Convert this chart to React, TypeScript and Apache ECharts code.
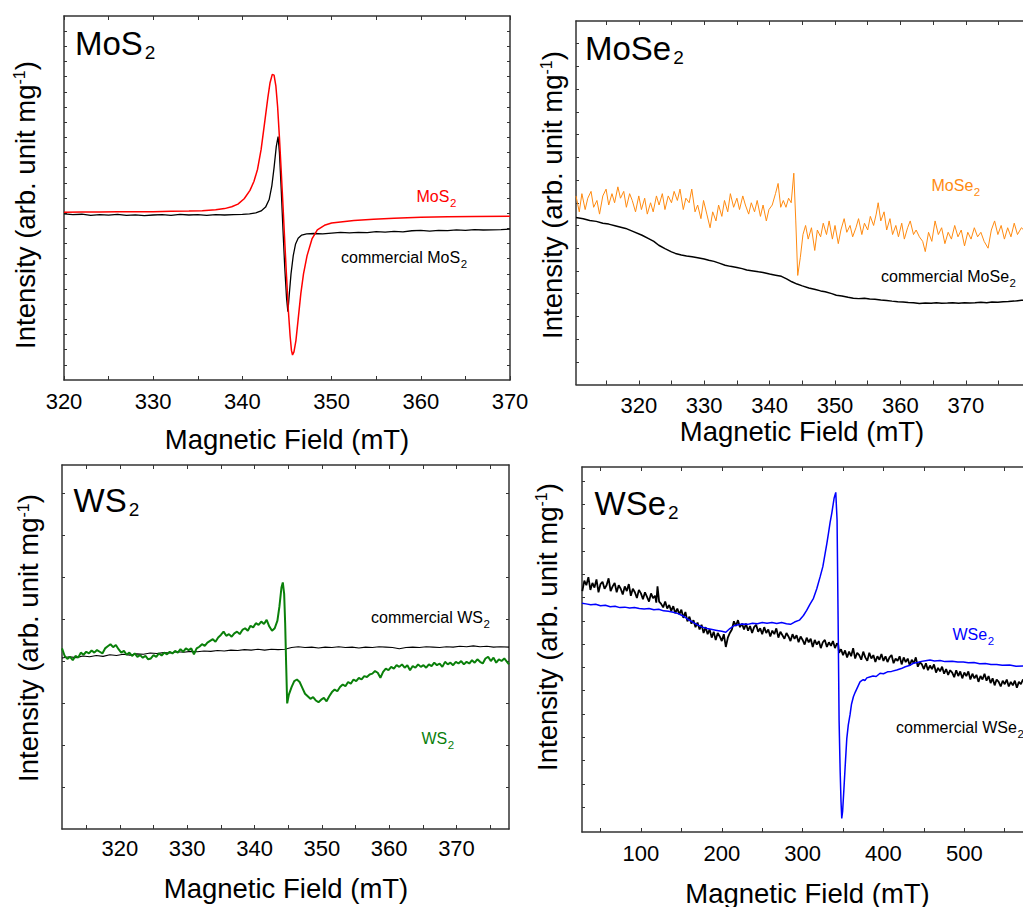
import React, { useEffect, useRef } from "react";
import * as echarts from "echarts";

const FONT = '"Liberation Sans", Arial, Helvetica, sans-serif';
const AX = "#333333";

// ---------- Panel 1: MoS2 ----------
const mos2XTicks = [320, 325, 330, 335, 340, 345, 350, 355, 360, 365, 370];
const mos2XLabels = [320, 330, 340, 350, 360, 370];
const mos2YTicks = [1, 2, 3, 4, 5, 6, 7, 8, 9, 10, 11, 12, 13, 14, 15, 16, 17, 18, 19, 20, 21, 22, 23];
const mos2Red = [
  [320, 11.06], [322, 11.07], [324, 11.08], [326, 11.09], [328, 11.1], [330, 11.1], [332, 11.12], [334, 11.14],
  [335.5, 11.16], [337, 11.22], [338, 11.3], [338.8, 11.42], [339.5, 11.6], [340.2, 11.95], [340.85, 12.5],
  [341.3, 13.1], [341.7, 13.9], [342.1, 15.2], [342.5, 17.0], [342.85, 18.6], [343.1, 19.6], [343.35, 20.15],
  [343.55, 20.1], [343.75, 19.4], [343.95, 18.0], [344.15, 16.0], [344.35, 13.8], [344.55, 11.5], [344.75, 9.1],
  [344.95, 6.8], [345.15, 4.6], [345.35, 2.9], [345.5, 1.95], [345.62, 1.65], [345.78, 1.85], [346.0, 2.6],
  [346.25, 4.0], [346.55, 5.7], [346.85, 7.0], [347.25, 8.2], [347.8, 9.3], [348.4, 9.9], [349.2, 10.2],
  [350, 10.35], [351, 10.42], [352.5, 10.52], [354.7, 10.6], [357, 10.67], [360, 10.73], [363, 10.77],
  [366, 10.78], [370, 10.8],
];
const mos2Commercial = [
  [320, 10.95], [321, 10.9], [322, 10.93], [323, 10.86], [324, 10.9], [325, 10.87], [326, 10.92], [327, 10.85],
  [328, 10.89], [329, 10.84], [330, 10.88], [331, 10.91], [332, 10.86], [333, 10.92], [334, 10.88], [335, 10.91],
  [336, 10.86], [337, 10.9], [338, 10.88], [339, 10.9], [340, 10.92], [340.8, 10.96], [341.5, 11.02],
  [342.1, 11.15], [342.6, 11.4], [343.0, 11.9], [343.3, 12.8], [343.55, 14.0], [343.8, 15.4], [344.0, 16.05],
  [344.15, 15.0], [344.35, 12.6], [344.55, 9.9], [344.75, 7.4], [344.95, 5.4], [345.1, 4.5], [345.25, 5.6],
  [345.45, 7.0], [345.7, 8.2], [345.95, 8.95], [346.25, 9.35], [346.65, 9.56], [347.2, 9.64], [348, 9.66],
  [349, 9.63], [350, 9.68], [351, 9.73], [352, 9.7], [353, 9.74], [354, 9.72], [355, 9.78], [356, 9.75],
  [357, 9.8], [358, 9.77], [359, 9.84], [360, 9.86], [361, 9.82], [362, 9.87], [363, 9.85], [364, 9.9],
  [365, 9.86], [366, 9.92], [367, 9.89], [368, 9.9], [369, 9.92], [370, 9.95],
];

// ---------- Panel 2: MoSe2 ----------
const mose2XTicks = [315, 320, 325, 330, 335, 340, 345, 350, 355, 360, 365, 370, 375];
const mose2XLabels = [320, 330, 340, 350, 360, 370];
const mose2YTicks = [1, 2, 3, 4, 5, 6, 7, 8, 9, 10, 11, 12, 13, 14, 15];
const mose2Orange = [
  [310.4, 8.3], [310.9, 7.6], [311.3, 8.4], [311.8, 7.7], [312.2, 8.2], [312.7, 8.5], [313.1, 7.8], [313.6, 8.1],
  [314.0, 7.5], [314.5, 8.3], [315.0, 8.6], [315.4, 7.9], [315.9, 8.4], [316.3, 8.0], [316.8, 8.7], [317.2, 8.2],
  [317.7, 8.5], [318.1, 7.8], [318.6, 8.4], [319.0, 8.1], [319.5, 7.6], [320.0, 8.3], [320.4, 7.7], [320.9, 8.2],
  [321.3, 7.5], [321.8, 8.0], [322.2, 7.6], [322.7, 8.3], [323.1, 7.9], [323.6, 8.4], [324.0, 7.7], [324.5, 8.3],
  [325.0, 8.0], [325.4, 8.5], [325.9, 8.1], [326.3, 8.6], [326.8, 7.7], [327.2, 8.2], [327.7, 8.0], [328.1, 8.6],
  [328.6, 7.6], [329.0, 7.9], [329.5, 7.3], [329.9, 8.1], [330.4, 7.5], [330.9, 6.9], [331.3, 7.6], [331.8, 7.2],
  [332.2, 7.9], [332.7, 7.4], [333.1, 8.1], [333.6, 7.6], [334.0, 8.4], [334.5, 7.8], [335.0, 8.2], [335.4, 7.7],
  [335.9, 8.3], [336.3, 7.9], [336.8, 7.5], [337.2, 8.0], [337.7, 7.6], [338.1, 8.1], [338.6, 7.4], [339.0, 7.9],
  [339.5, 7.2], [339.9, 7.7], [340.4, 7.9], [340.9, 8.4], [341.3, 8.85], [341.7, 7.8], [342.1, 8.1], [342.5, 7.8],
  [342.9, 8.2], [343.3, 8.0], [343.7, 9.3], [344.0, 7.2], [344.3, 4.8], [344.7, 5.6], [345.1, 6.6], [345.5, 7.0],
  [345.9, 6.4], [346.4, 6.9], [346.9, 5.9], [347.3, 6.8], [347.8, 6.5], [348.2, 7.1], [348.7, 6.6], [349.1, 7.2],
  [349.6, 6.4], [350.0, 7.0], [350.5, 6.2], [350.9, 6.8], [351.4, 7.3], [351.8, 6.7], [352.3, 7.0], [352.7, 6.5],
  [353.2, 6.9], [353.6, 7.3], [354.1, 6.6], [354.5, 7.1], [355.0, 6.8], [355.4, 7.4], [355.9, 7.0], [356.3, 7.5],
  [356.6, 8.0], [357.0, 7.2], [357.5, 7.6], [357.9, 6.8], [358.4, 7.3], [358.8, 6.6], [359.3, 7.0], [359.7, 6.5],
  [360.2, 7.1], [360.6, 6.4], [361.1, 6.9], [361.5, 7.2], [362.0, 6.6], [362.4, 6.8], [362.9, 6.5], [363.4, 6.3],
  [363.8, 5.85], [364.3, 6.7], [364.8, 6.3], [365.3, 7.2], [365.8, 6.6], [366.3, 6.9], [366.8, 6.2], [367.3, 6.7],
  [367.8, 6.4], [368.3, 7.0], [368.8, 6.5], [369.3, 6.8], [369.8, 6.1], [370.3, 6.7], [370.8, 6.4], [371.3, 6.9],
  [371.8, 6.5], [372.3, 6.7], [372.8, 6.3], [373.4, 6.0], [373.9, 6.8], [374.4, 7.2], [374.9, 6.6], [375.4, 7.0],
  [375.9, 6.4], [376.4, 6.9], [376.9, 6.5], [377.4, 7.1], [377.9, 6.6], [378.5, 6.9], [379.2, 6.7],
];
const mose2Commercial = [
  [310.4, 7.35], [311.5, 7.3], [312.5, 7.22], [313.5, 7.18], [314.5, 7.1], [315.4, 7.06], [316.5, 6.98], [318, 6.87],
  [319, 6.75], [320.5, 6.57], [321.5, 6.42], [322.3, 6.3], [323.05, 6.13], [324, 5.98], [325, 5.84], [325.6, 5.77],
  [326.5, 5.7], [327.3, 5.66], [328.15, 5.62], [329, 5.58], [330, 5.52], [330.7, 5.47], [331.5, 5.42], [332.4, 5.33],
  [333.2, 5.25], [334, 5.2], [335, 5.15], [335.8, 5.1], [336.5, 5.04], [337.5, 5.0], [338.3, 4.96], [339, 4.93],
  [340, 4.86], [340.9, 4.81], [341.8, 4.76], [342.6, 4.65], [343.4, 4.52], [344.2, 4.42], [345, 4.34], [346, 4.25],
  [347, 4.18], [347.8, 4.12], [348.5, 4.08], [349.5, 4.0], [350.2, 3.93], [351.05, 3.9], [352, 3.84], [352.8, 3.8],
  [353.6, 3.78], [354.5, 3.8], [355.3, 3.76], [356.1, 3.75], [357, 3.72], [357.9, 3.7], [358.7, 3.67], [359.6, 3.64],
  [360.4, 3.63], [361.2, 3.61], [362, 3.6], [362.9, 3.57], [363.8, 3.59], [364.7, 3.58], [365.5, 3.6], [366.3, 3.58],
  [367.2, 3.59], [368, 3.6], [368.9, 3.58], [369.8, 3.6], [370.6, 3.59], [371.4, 3.6], [372.3, 3.62], [373.2, 3.6],
  [374, 3.63], [374.9, 3.62], [375.7, 3.64], [376.5, 3.65], [377.4, 3.67], [378.5, 3.71], [379.2, 3.7],
];

// ---------- Panel 3: WS2 ----------
const ws2XTicks = [315, 320, 325, 330, 335, 340, 345, 350, 355, 360, 365, 370, 375];
const ws2XLabels = [320, 330, 340, 350, 360, 370];
const ws2YTicks = [1, 2, 3, 4, 5, 6, 7, 8];
const ws2Green = [
  [311.4, 4.3], [311.8, 4.12], [312.2, 4.05], [312.6, 4.1], [313.0, 4.02], [313.4, 4.12], [313.8, 4.08], [314.2, 4.2],
  [314.6, 4.15], [315.0, 4.22], [315.4, 4.18], [315.8, 4.25], [316.2, 4.2], [316.6, 4.26], [317.0, 4.22], [317.4, 4.18],
  [317.8, 4.3], [318.2, 4.35], [318.6, 4.4], [319.0, 4.33], [319.4, 4.38], [319.8, 4.28], [320.2, 4.2], [320.6, 4.24],
  [321.0, 4.15], [321.4, 4.2], [321.8, 4.12], [322.2, 4.18], [322.6, 4.1], [323.0, 4.14], [323.4, 4.08], [323.8, 4.12],
  [324.2, 4.04], [324.6, 4.06], [325.0, 4.14], [325.4, 4.1], [325.8, 4.18], [326.2, 4.13], [326.6, 4.2], [327.0, 4.16],
  [327.4, 4.22], [327.8, 4.18], [328.2, 4.24], [328.6, 4.2], [329.0, 4.28], [329.4, 4.22], [329.8, 4.3], [330.2, 4.26],
  [330.6, 4.3], [331.0, 4.16], [331.4, 4.3], [331.8, 4.34], [332.2, 4.4], [332.6, 4.36], [333.0, 4.44], [333.4, 4.48],
  [333.8, 4.52], [334.2, 4.46], [334.6, 4.56], [335.0, 4.62], [335.4, 4.7], [335.8, 4.6], [336.2, 4.64], [336.6, 4.58],
  [337.0, 4.66], [337.4, 4.7], [337.8, 4.64], [338.2, 4.74], [338.6, 4.78], [339.0, 4.72], [339.4, 4.84], [339.8, 4.8],
  [340.2, 4.9], [340.6, 4.86], [341.0, 4.94], [341.4, 4.88], [341.8, 4.98], [342.2, 4.82], [342.6, 4.72], [343.0, 4.78],
  [343.4, 4.96], [343.7, 5.3], [344.0, 5.75], [344.2, 5.87], [344.4, 5.6], [344.55, 4.9], [344.7, 3.9], [344.85, 2.99],
  [345.1, 3.2], [345.5, 3.38], [345.9, 3.52], [346.3, 3.56], [346.7, 3.5], [347.1, 3.36], [347.5, 3.22], [347.9, 3.16],
  [348.3, 3.1], [348.7, 3.14], [349.1, 3.06], [349.5, 3.02], [349.9, 3.08], [350.3, 3.12], [350.7, 3.04], [351.1, 3.16],
  [351.5, 3.26], [351.9, 3.32], [352.3, 3.28], [352.7, 3.38], [353.1, 3.44], [353.5, 3.4], [353.9, 3.5], [354.3, 3.46],
  [354.7, 3.56], [355.1, 3.52], [355.5, 3.6], [355.9, 3.56], [356.3, 3.64], [356.7, 3.62], [357.1, 3.68], [357.5, 3.7],
  [357.9, 3.76], [358.3, 3.72], [358.7, 3.6], [359.1, 3.74], [359.5, 3.82], [359.9, 3.78], [360.3, 3.86], [360.7, 3.82],
  [361.1, 3.9], [361.5, 3.86], [361.9, 3.92], [362.3, 3.84], [362.7, 3.9], [363.1, 3.78], [363.5, 3.88], [363.9, 3.84],
  [364.3, 3.92], [364.7, 3.86], [365.1, 3.9], [365.5, 3.84], [365.9, 3.92], [366.3, 3.88], [366.7, 3.96], [367.1, 3.9],
  [367.5, 3.94], [367.9, 3.86], [368.3, 3.98], [368.7, 3.92], [369.1, 3.96], [369.5, 3.9], [369.9, 3.98], [370.3, 3.94],
  [370.7, 4.0], [371.1, 3.92], [371.5, 3.98], [371.9, 3.94], [372.3, 4.02], [372.7, 3.96], [373.1, 4.04], [373.5, 3.98],
  [373.9, 3.94], [374.3, 4.06], [374.7, 4.1], [375.1, 4.0], [375.5, 4.08], [375.9, 3.96], [376.3, 4.04], [376.7, 4.0],
  [377.1, 4.06], [377.5, 3.98], [377.8, 3.92],
];
const ws2Commercial = [
  [311.4, 4.07], [312.5, 4.1], [313.5, 4.08], [314.5, 4.12], [315.5, 4.1], [316.5, 4.13], [317.5, 4.11], [318.5, 4.15],
  [319.5, 4.13], [320.5, 4.16], [321.5, 4.14], [322.5, 4.17], [323.5, 4.16], [324.5, 4.19], [325.5, 4.18], [326.5, 4.2],
  [327.5, 4.19], [328.5, 4.22], [329.5, 4.21], [330.5, 4.23], [331.5, 4.22], [332.5, 4.24], [333.5, 4.23], [334.5, 4.25],
  [335.5, 4.24], [336.5, 4.26], [337.5, 4.25], [338.5, 4.27], [339.5, 4.26], [340.5, 4.28], [341.5, 4.26], [342.5, 4.28],
  [343.5, 4.27], [344.5, 4.28], [345.5, 4.32], [346.5, 4.34], [347.5, 4.32], [348.5, 4.33], [349.5, 4.31], [350.5, 4.33],
  [351.5, 4.32], [352.5, 4.34], [353.5, 4.32], [354.5, 4.33], [355.5, 4.31], [356.5, 4.33], [357.5, 4.32], [358.5, 4.34],
  [359.5, 4.33], [360.5, 4.32], [361.5, 4.29], [362.5, 4.32], [363.5, 4.33], [364.5, 4.32], [365.5, 4.34], [366.5, 4.33],
  [367.5, 4.32], [368.5, 4.34], [369.5, 4.33], [370.5, 4.35], [371.5, 4.34], [372.5, 4.36], [373.5, 4.34], [374.5, 4.35],
  [375.5, 4.33], [376.5, 4.34], [377.8, 4.33],
];

// ---------- Panel 4: WSe2 ----------
const wse2XTicks = [50, 100, 150, 200, 250, 300, 350, 400, 450, 500, 550];
const wse2XLabels = [100, 200, 300, 400, 500];
const wse2YTicks = [1.07, 2.07, 3.07, 4.07, 5.07, 6.07, 7.07, 8.07, 9.07, 10.07, 11.07, 12.07, 13.07, 14.07, 15.07];
const wse2Blue = [
  [27.1, 9.83], [32, 9.8], [38, 9.76], [44, 9.78], [50, 9.72], [56, 9.74], [62, 9.68], [68, 9.7], [74, 9.64], [80, 9.66],
  [86, 9.62], [92, 9.64], [98, 9.6], [104, 9.58], [110, 9.6], [116, 9.55], [122, 9.57], [128, 9.5], [134, 9.48],
  [140, 9.44], [146, 9.38], [152, 9.28], [158, 9.14], [164, 9.02], [170, 8.9], [176, 8.8], [182, 8.74], [188, 8.7],
  [194, 8.66], [200, 8.62], [205, 8.58], [210, 8.74], [215, 8.86], [220, 8.9], [226, 8.94], [232, 8.92], [238, 8.97],
  [244, 8.95], [250, 9.0], [256, 8.97], [262, 9.0], [268, 8.96], [274, 9.0], [280, 8.95], [285, 8.92], [290, 9.02],
  [296, 9.1], [301, 9.3], [305, 9.52], [309, 9.78], [313.4, 10.04], [317.5, 10.45], [321.7, 10.97], [325, 11.4],
  [327.9, 11.98], [330, 12.4], [332, 12.84], [334, 13.3], [336.1, 13.7], [339, 14.35], [341, 14.59], [342.6, 13.4],
  [343.9, 9.11], [345.1, 4.8], [346.4, 2.65], [347.5, 1.3], [348.4, 0.58], [349.5, 0.9], [351, 1.8], [352.6, 2.8],
  [354.6, 4.0], [356.5, 4.6], [358.7, 5.05], [360.5, 5.5], [362.8, 5.81], [365, 6.0], [367, 6.15], [369, 6.3],
  [371, 6.45], [373, 6.5], [375, 6.55], [377, 6.5], [379.4, 6.62], [383, 6.66], [387, 6.7], [391, 6.68], [395.8, 6.82],
  [400, 6.8], [405, 6.88], [410, 6.9], [416.4, 6.96], [422, 7.02], [427, 7.1], [432, 7.15], [437, 7.25], [442, 7.28],
  [447, 7.33], [452, 7.36], [457.6, 7.39], [463, 7.35], [470, 7.37], [476, 7.32], [485, 7.34], [492, 7.3],
  [498.8, 7.3], [505, 7.27], [512, 7.28], [519, 7.23], [526, 7.24], [533, 7.2], [540, 7.2], [547, 7.16], [556, 7.17],
  [564, 7.12], [576, 7.14],
];
const wse2Commercial = [
  [27.5, 10.35], [30, 10.8], [32.5, 10.6], [35, 10.95], [37.5, 10.4], [40, 10.7], [42.5, 10.5], [45, 10.85], [47.5, 10.3], [50, 10.65],
  [52.5, 10.75], [55, 10.45], [57.5, 10.6], [60, 10.9], [62.5, 10.35], [65, 10.55], [67.5, 10.7], [70, 10.3], [72.5, 10.6], [75, 10.45],
  [77.5, 10.2], [80, 10.55], [82.5, 10.35], [85, 10.65], [87.5, 10.15], [90, 10.45], [92.5, 10.3], [95, 10.05], [97.5, 10.4], [100, 10.25],
  [102.5, 10.0], [105, 10.3], [107.5, 10.1], [110, 9.9], [112.5, 10.25], [115, 10.05], [117.5, 10.15], [119, 9.85], [120.5, 10.55], [122.5, 9.9],
  [125, 9.8], [127.5, 9.65], [130, 9.9], [132.5, 9.6], [135, 9.75], [137.5, 9.5], [140, 9.7], [142.5, 9.4], [145, 9.6], [147.5, 9.35],
  [150, 9.55], [152.5, 9.2], [155, 9.45], [157.5, 9.05], [160, 9.25], [162.5, 8.95], [165, 9.1], [167.5, 8.8], [170, 9.0], [172.5, 8.7],
  [175, 8.9], [177.5, 8.55], [180, 8.8], [182.5, 8.5], [185, 8.7], [187.5, 8.35], [190, 8.6], [192.5, 8.25], [195, 8.55], [197.5, 8.4],
  [200, 8.2], [202.5, 8.5], [205, 7.95], [207.5, 8.35], [210, 8.55], [212.5, 8.7], [215, 9.05], [217.5, 8.85], [220, 9.1], [222.5, 8.8],
  [225, 8.95], [227.5, 8.7], [230, 8.95], [232.5, 8.65], [235, 8.85], [237.5, 8.55], [240, 8.8], [242.5, 8.9], [245, 8.6], [247.5, 8.75],
  [250, 8.5], [252.5, 8.8], [255, 8.55], [257.5, 8.7], [260, 8.4], [262.5, 8.65], [265, 8.5], [267.5, 8.75], [270, 8.35], [272.5, 8.6],
  [275, 8.45], [277.5, 8.3], [280, 8.55], [282.5, 8.4], [285, 8.2], [287.5, 8.5], [290, 8.3], [292.5, 8.45], [295, 8.15], [297.5, 8.4],
  [300, 8.25], [302.5, 8.05], [305, 8.35], [307.5, 8.15], [310, 8.3], [312.5, 7.95], [315, 8.25], [317.5, 8.05], [320, 8.2], [322.5, 7.9],
  [325, 8.15], [327.5, 8.25], [330, 7.95], [332.5, 8.15], [335, 8.0], [337.5, 8.2], [340, 7.9], [342.5, 8.1], [344, 8.05], [345, 7.7],
  [347.5, 7.85], [350, 7.6], [352.5, 7.8], [355, 7.5], [357.5, 7.75], [360, 7.55], [362.5, 7.9], [365, 7.45], [367.5, 7.7], [370, 7.6],
  [372.5, 7.4], [375, 7.75], [377.5, 7.5], [380, 7.35], [382.5, 7.7], [385, 7.45], [387.5, 7.6], [390, 7.3], [392.5, 7.55], [395, 7.4],
  [397.5, 7.65], [400, 7.35], [402.5, 7.55], [405, 7.3], [407.5, 7.5], [410, 7.6], [412.5, 7.25], [415, 7.45], [417.5, 7.35], [420, 7.55],
  [422.5, 7.2], [425, 7.5], [427.5, 7.3], [430, 7.45], [432.5, 7.15], [435, 7.4], [437.5, 7.25], [440, 7.5], [442.5, 7.1], [445, 7.3],
  [447.5, 7.2], [450, 7.0], [452.5, 7.25], [455, 6.95], [457.5, 7.15], [460, 7.0], [462.5, 7.2], [465, 6.85], [467.5, 7.05], [470, 6.9],
  [472.5, 7.1], [475, 6.8], [477.5, 7.0], [480, 6.75], [482.5, 6.95], [485, 6.85], [487.5, 6.65], [490, 6.95], [492.5, 6.7], [495, 6.9],
  [497.5, 6.6], [500, 6.85], [502.5, 6.7], [505, 6.9], [507.5, 6.55], [510, 6.8], [512.5, 6.6], [515, 6.75], [517.5, 6.45], [520, 6.7],
  [522.5, 6.55], [525, 6.8], [527.5, 6.5], [530, 6.7], [532.5, 6.4], [535, 6.6], [537.5, 6.3], [540, 6.55], [542.5, 6.45], [545, 6.25],
  [547.5, 6.5], [550, 6.35], [552.5, 6.55], [555, 6.25], [557.5, 6.45], [560, 6.3], [562.5, 6.5], [565, 6.2], [567.5, 6.45], [570, 6.35],
  [572.5, 6.55], [575, 6.4],
];

const xTitle = "Magnetic Field (mT)";

type Panel = {
  grid: { left: number; top: number; width: number; height: number };
  xMin: number; xMax: number; xTicks: number[]; xLabels: number[]; labelMargin: number;
  yMin: number; yMax: number; yTicks: number[];
};

const panels: Panel[] = [
  { grid: { left: 64, top: 16, width: 446, height: 364 }, xMin: 320, xMax: 370, xTicks: mos2XTicks, xLabels: mos2XLabels, labelMargin: 10, yMin: 0, yMax: 24, yTicks: mos2YTicks },
  { grid: { left: 576, top: 21, width: 450, height: 363.5 }, xMin: 310.4, xMax: 379.2, xTicks: mose2XTicks, xLabels: mose2XLabels, labelMargin: 9.5, yMin: 0, yMax: 16, yTicks: mose2YTicks },
  { grid: { left: 62, top: 465, width: 447, height: 364 }, xMin: 311.4, xMax: 377.8, xTicks: ws2XTicks, xLabels: ws2XLabels, labelMargin: 8.5, yMin: 0, yMax: 8.667, yTicks: ws2YTicks },
  { grid: { left: 582, top: 467, width: 444, height: 365 }, xMin: 27.1, xMax: 576.3, xTicks: wse2XTicks, xLabels: wse2XLabels, labelMargin: 10, yMin: 0, yMax: 15.68, yTicks: wse2YTicks },
];

function axisLine() {
  return { show: true, onZero: false, lineStyle: { color: AX, width: 1.5 } };
}

function buildAxes() {
  const xAxis: any[] = [];
  const yAxis: any[] = [];
  panels.forEach((p, i) => {
    ["bottom", "top"].forEach((pos) => {
      xAxis.push({
        type: "value", gridIndex: i, position: pos, min: p.xMin, max: p.xMax,
        axisLine: axisLine(),
        axisTick: { show: true, inside: true, length: 4, lineStyle: { color: AX, width: 1 }, customValues: p.xTicks },
        axisLabel: pos === "bottom"
          ? { show: true, customValues: p.xLabels, fontSize: 22, color: "#000", fontFamily: FONT, margin: p.labelMargin }
          : { show: false },
        splitLine: { show: false }, minorTick: { show: false },
      });
    });
    ["left", "right"].forEach((pos) => {
      yAxis.push({
        type: "value", gridIndex: i, position: pos, min: p.yMin, max: p.yMax,
        axisLine: axisLine(),
        axisTick: { show: true, inside: true, length: 3, lineStyle: { color: AX, width: 1 }, customValues: p.yTicks },
        axisLabel: { show: false },
        splitLine: { show: false }, minorTick: { show: false },
      });
    });
  });
  return { xAxis, yAxis };
}

function line(panel: number, data: number[][], color: string, width: number, z: number) {
  return {
    type: "line", xAxisIndex: panel * 2, yAxisIndex: panel * 2, data,
    showSymbol: false, symbol: "none", silent: true, clip: true, z,
    lineStyle: { color, width }, emphasis: { disabled: true },
  };
}

let measureCtx: CanvasRenderingContext2D | null = null;
function textWidth(t: string, fs: number) {
  if (!measureCtx) measureCtx = document.createElement("canvas").getContext("2d");
  if (!measureCtx) return t.length * fs * 0.55;
  measureCtx.font = `${fs}px "Liberation Sans", Arial, sans-serif`;
  return measureCtx.measureText(t).width;
}

// main text + subscript, positioned by the main text's alphabetic baseline
function subLabel(x: number, baseline: number, main: string, sub: string, fs: number, subFs: number, drop: number, gap: number, color: string) {
  const w = textWidth(main, fs);
  return [
    {
      type: "text", x, y: baseline - 0.3465 * fs, silent: true,
      style: { text: main, fontSize: fs, fontFamily: FONT, fill: color, align: "left", verticalAlign: "middle" },
    },
    {
      type: "text", x: x + w + gap, y: baseline + drop - 0.3465 * subFs, silent: true,
      style: { text: sub, fontSize: subFs, fontFamily: FONT, fill: color, align: "left", verticalAlign: "middle" },
    },
  ];
}

function yTitle(cx: number, cy: number) {
  return {
    type: "text", x: cx, y: cy, rotation: Math.PI / 2, silent: true,
    style: {
      text: "{m|Intensity (arb. unit mg}{s|-1}{m|)}",
      rich: {
        m: { fontSize: 27.5, fontFamily: FONT, fill: "#000", lineHeight: 27.5 },
        s: { fontSize: 16, fontFamily: FONT, fill: "#000", lineHeight: 7, verticalAlign: "top" },
      },
      align: "center", verticalAlign: "middle",
    },
  };
}

function xTitleText(cx: number, cy: number) {
  return {
    type: "text", x: cx, y: cy, silent: true,
    style: { text: xTitle, fontSize: 27.5, fontFamily: FONT, fill: "#000", align: "center", verticalAlign: "middle" },
  };
}

export default function App() {
  const ref = useRef<HTMLDivElement>(null);
  useEffect(() => {
    if (!ref.current) return;
    const chart = echarts.init(ref.current, null, { renderer: "svg" });
    const { xAxis, yAxis } = buildAxes();
    const RED = "#ff0000", ORANGE = "#ff8a10", GREEN = "#0a800a", BLUE = "#0000ff", BLACK = "#000000";
    chart.setOption({
      animation: false,
      backgroundColor: "#ffffff",
      grid: panels.map((p) => ({ ...p.grid, containLabel: false, outerBoundsMode: "none" })),
      xAxis,
      yAxis,
      series: [
        line(0, mos2Commercial, BLACK, 1.3, 2),
        line(0, mos2Red, RED, 1.5, 3),
        line(1, mose2Commercial, BLACK, 1.5, 2),
        line(1, mose2Orange, ORANGE, 1, 3),
        line(2, ws2Commercial, BLACK, 1.1, 2),
        line(2, ws2Green, GREEN, 2, 3),
        line(3, wse2Commercial, BLACK, 1.8, 2),
        line(3, wse2Blue, BLUE, 1.5, 3),
      ],
      graphic: [
        ...subLabel(75, 55, "MoS", "2", 33, 19, 4.3, 2, "#000"),
        ...subLabel(585, 60, "MoSe", "2", 33, 19, 4.3, 2, "#000"),
        ...subLabel(73.5, 511.7, "WS", "2", 33, 19, 4.3, 2, "#000"),
        ...subLabel(594.5, 515, "WSe", "2", 33, 19, 4.3, 2, "#000"),
        ...subLabel(416.5, 202.3, "MoS", "2", 16, 11.5, 5, 0.5, RED),
        ...subLabel(341, 263.3, "commercial MoS", "2", 16, 11.5, 5, 0.5, BLACK),
        ...subLabel(931.5, 190.7, "MoSe", "2", 16, 11.5, 5, 0.5, ORANGE),
        ...subLabel(881, 281.7, "commercial MoSe", "2", 16, 11.5, 5, 0.5, BLACK),
        ...subLabel(371, 622.7, "commercial WS", "2", 16, 11.5, 5, 0.5, BLACK),
        ...subLabel(421.5, 744.3, "WS", "2", 16, 11.5, 5, 0.5, GREEN),
        ...subLabel(952.5, 640, "WSe", "2", 16, 11.5, 5, 0.5, BLUE),
        ...subLabel(896, 733.3, "commercial WSe", "2", 16, 11.5, 5, 0.5, BLACK),
        yTitle(25.5, 205),
        yTitle(552.5, 195),
        yTitle(28.8, 638),
        yTitle(547.5, 627),
        xTitleText(287, 439.5),
        xTitleText(802, 431.2),
        xTitleText(286, 888.5),
        xTitleText(807.5, 893),
      ],
    });
    return () => chart.dispose();
  }, []);
  return (
    <div
      ref={ref}
      style={{ position: "fixed", left: 0, top: 0, width: 1023, height: 907, background: "#fff" }}
    />
  );
}
